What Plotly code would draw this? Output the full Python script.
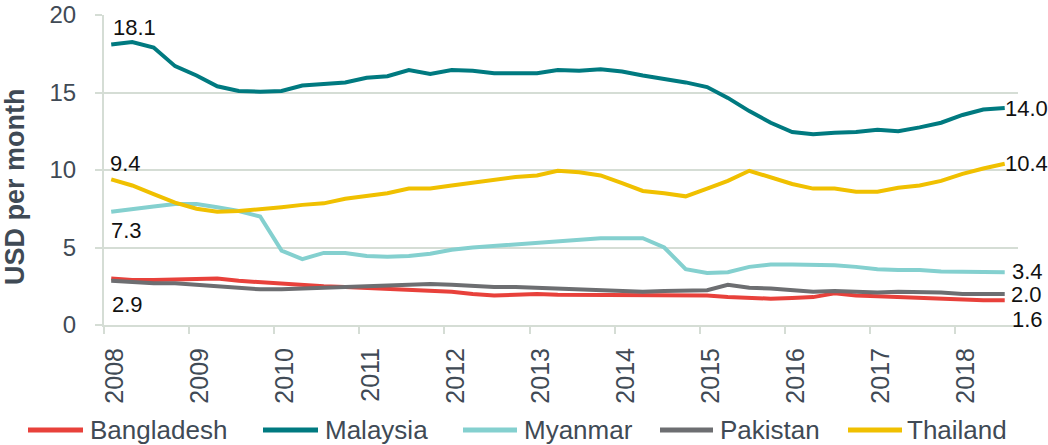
import plotly.graph_objects as go
import pandas as pd

# Quarterly observations (Feb, May, Aug, Nov), Feb 2008 - Aug 2018
dates = pd.date_range("2008-02-01", periods=43, freq="3MS").strftime("%Y-%m-%d").tolist()

bangladesh = [3.0, 2.9, 2.9, 2.95, 3.0, 3.0, 2.85, 2.75, 2.7, 2.6, 2.5, 2.45, 2.4, 2.35, 2.3,
              2.25, 2.15, 2.0, 1.9, 1.95, 2.0, 1.95, 1.95, 1.95, 1.95, 1.95, 1.95, 1.95, 1.9,
              1.8, 1.75, 1.7, 1.75, 1.8, 2.05, 1.9, 1.85, 1.8, 1.75, 1.7, 1.6, 1.6, 1.6]
malaysia = [18.1, 18.25, 17.9, 16.7, 16.1, 15.4, 15.1, 15.05, 15.1, 15.45, 15.55, 15.65, 15.95,
            16.05, 16.45, 16.2, 16.45, 16.4, 16.25, 16.25, 16.25, 16.45, 16.4, 16.5, 16.35,
            16.1, 15.9, 15.65, 15.35, 14.65, 13.8, 13.05, 12.45, 12.3, 12.4, 12.45, 12.6,
            12.5, 12.75, 13.05, 13.55, 13.9, 14.0]
myanmar = [7.3, 7.5, 7.65, 7.8, 7.8, 7.6, 7.35, 7.0, 4.8, 4.25, 4.65, 4.65, 4.45, 4.4, 4.45,
           4.6, 4.85, 5.0, 5.1, 5.15, 5.3, 5.4, 5.5, 5.6, 5.6, 5.6, 5.0, 3.6, 3.35, 3.4, 3.75,
           3.9, 3.9, 3.9, 3.85, 3.75, 3.6, 3.55, 3.55, 3.45, 3.45, 3.4, 3.4]
pakistan = [2.85, 2.75, 2.7, 2.7, 2.6, 2.45, 2.35, 2.3, 2.3, 2.35, 2.4, 2.45, 2.45, 2.5, 2.6,
            2.65, 2.6, 2.5, 2.45, 2.45, 2.4, 2.35, 2.3, 2.2, 2.15, 2.15, 2.2, 2.25, 2.25, 2.6,
            2.4, 2.35, 2.25, 2.15, 2.2, 2.15, 2.1, 2.15, 2.15, 2.1, 2.0, 2.0, 2.0]
thailand = [9.4, 9.0, 8.45, 7.9, 7.5, 7.3, 7.35, 7.45, 7.6, 7.75, 7.85, 8.15, 8.3, 8.5, 8.8,
            8.8, 9.0, 9.2, 9.35, 9.55, 9.65, 9.95, 9.85, 9.65, 9.15, 8.65, 8.5, 8.3, 8.8, 9.3,
            9.95, 9.55, 9.1, 8.8, 8.8, 8.6, 8.6, 8.85, 9.0, 9.3, 9.75, 10.1, 10.4]

series = [
    ("Bangladesh", bangladesh, "#E8413B"),
    ("Malaysia", malaysia, "#007A80"),
    ("Myanmar", myanmar, "#84D0CF"),
    ("Pakistan", pakistan, "#6D6E71"),
    ("Thailand", thailand, "#F0C000"),
]

FONT = "Arial, Liberation Sans, sans-serif"
TXT = "#404A55"

# plot area in pixels
L, R, T, B, W, H = 104, 1018, 15, 325, 1048, 445
pw, ph = R - L, B - T


def px(xp):
    return (xp - L) / pw


def py(yp):
    return (B - yp) / ph


fig = go.Figure()
for name, vals, col in series:
    fig.add_trace(go.Scatter(x=dates, y=vals, name=name, mode="lines", showlegend=False,
                             line=dict(color=col, width=4)))

# Start / end value labels: (values, index, text, xshift, yshift)
labels = [
    (malaysia, 0, None, 0, 17), (thailand, 0, None, -3, 16), (myanmar, 0, None, -2, -19),
    (pakistan, 0, "2.9", -1, -24),
    (malaysia, -1, None, -2, 0), (thailand, -1, None, -2, 0), (myanmar, -1, None, 5, 1),
    (pakistan, -1, None, 4, 0), (bangladesh, -1, None, 5, -19),
]
for vals, idx, txt, xs, ys in labels:
    v = vals[idx]
    fig.add_annotation(x=dates[idx], y=v, text=txt or f"{v:.1f}", showarrow=False,
                       xanchor="left", yanchor="middle", xshift=xs, yshift=ys,
                       font=dict(family=FONT, size=22, color="#111111"))

# Manual legend (line segment + label) below the chart
legend_pos = [(28, 83, 88), (263, 318, 323), (463, 517, 522), (660, 713, 718), (848, 902, 905)]
leg_y = 430
for (name, _, col), (x0, x1, xt) in zip(series, legend_pos):
    fig.add_shape(type="line", xref="paper", yref="paper", x0=px(x0), x1=px(x1),
                  y0=py(leg_y), y1=py(leg_y), line=dict(color=col, width=5))
    fig.add_annotation(xref="paper", yref="paper", x=px(xt), y=py(leg_y), text=name,
                       showarrow=False, xanchor="left", yanchor="middle",
                       font=dict(family=FONT, size=26, color=TXT))

# Y-axis title
fig.add_annotation(xref="paper", yref="paper", x=px(15), y=py(187), text="<b>USD per month</b>",
                   textangle=-90, showarrow=False, xanchor="center", yanchor="middle",
                   font=dict(family=FONT, size=27, color=TXT))

grid = "#D5DDD5"
fig.update_layout(
    width=W, height=H,
    margin=dict(l=L, r=W - R, t=T, b=H - B, autoexpand=False),
    plot_bgcolor="white", paper_bgcolor="white",
    showlegend=False,
    xaxis=dict(type="date", range=["2008-01-01", "2018-09-27"], dtick="M12",
               tick0="2008-01-01", tickformat="%Y", tickangle=-90, automargin=False,
               tickfont=dict(family=FONT, size=25, color=TXT), showgrid=False,
               showline=True, linecolor=grid, linewidth=2, ticks="outside", ticklen=7,
               tickcolor=grid, tickwidth=2, ticklabelshift=11, ticklabelstandoff=4),
    yaxis=dict(range=[0, 20], dtick=5, tickfont=dict(family=FONT, size=24, color=TXT),
               showgrid=True, automargin=False,
               gridcolor=grid, gridwidth=1.5, showline=True, linecolor=grid, linewidth=2,
               ticks="outside", ticklen=7, tickcolor=grid, tickwidth=2, zeroline=False,
               ticklabelstandoff=14),
)

fig.write_html(
    "out.html",
    config={"displayModeBar": False},
    post_script="document.body.style.margin='0';document.body.style.overflow='hidden';",
)
